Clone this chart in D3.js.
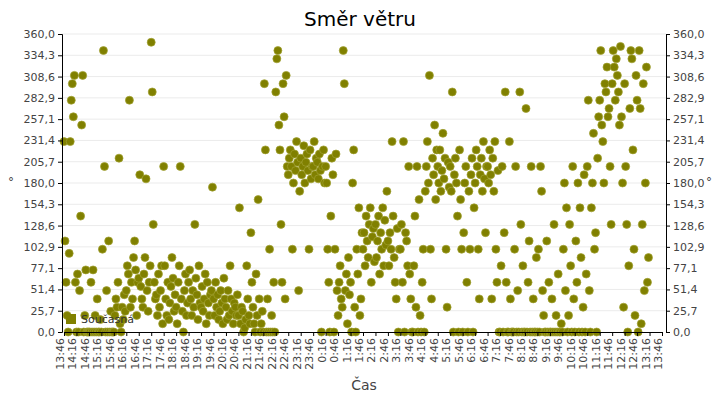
<!DOCTYPE html>
<html><head><meta charset="utf-8">
<script src="https://cdn.jsdelivr.net/npm/d3@7"></script>
<style>body{margin:0;background:#fff}text{font-family:"DejaVu Sans",sans-serif}</style>
</head><body><svg id="c" width="720" height="400"></svg>
<script>
// one array of wind direction readings per 30-minute interval starting 13:46
var blocks = [
  [230, 110, 60, 20, 0, 95, 230, 280, 300, 260, 310, 60],
  [0, 70, 0, 50, 140, 250, 310, 0, 20, 75, 0, 0],
  [0, 0, 60, 0, 75, 0, 20, 0, 40, 0, 0, 15],
  [0, 100, 340, 200, 0, 50, 0, 110, 0, 25, 0, 0],
  [0, 20, 40, 30, 60, 210, 10, 0, 30, 15, 45, 25],
  [50, 80, 70, 280, 30, 60, 40, 90, 110, 75, 20, 60],
  [65, 190, 55, 40, 30, 70, 90, 185, 50, 25, 60, 80],
  [350, 290, 130, 60, 40, 45, 20, 70, 30, 50, 80, 10],
  [200, 80, 40, 20, 60, 15, 35, 55, 90, 65, 25, 45],
  [30, 10, 60, 80, 200, 40, 25, 0, 50, 70, 20, 35],
  [60, 75, 40, 20, 50, 30, 130, 65, 45, 15, 80, 35],
  [30, 55, 25, 40, 70, 10, 60, 35, 20, 45, 50, 175],
  [40, 20, 60, 30, 45, 15, 25, 50, 35, 10, 65, 40],
  [30, 15, 50, 20, 80, 40, 25, 10, 35, 30, 20, 45],
  [20, 150, 10, 30, 25, 0, 5, 15, 80, 40, 20, 10],
  [120, 60, 30, 10, 0, 70, 20, 160, 40, 0, 10, 25],
  [0, 300, 220, 0, 40, 0, 100, 0, 20, 0, 60, 0],
  [290, 330, 340, 250, 220, 130, 60, 300, 260, 40, 310, 200],
  [190, 210, 220, 200, 100, 180, 215, 195, 230, 205, 50, 170],
  [210, 190, 200, 225, 180, 205, 215, 195, 100, 220, 185, 200],
  [200, 230, 190, 210, 205, 185, 215, 195, 0, 200, 220, 180],
  [200, 180, 100, 60, 0, 140, 210, 190, 0, 100, 215, 50],
  [20, 60, 80, 40, 30, 340, 300, 50, 70, 10, 90, 45],
  [60, 0, 180, 220, 30, 0, 100, 70, 150, 20, 40, 120],
  [100, 120, 80, 140, 110, 90, 130, 150, 60, 115, 125, 85],
  [130, 90, 110, 140, 70, 120, 100, 150, 80, 135, 105, 170],
  [110, 80, 120, 100, 230, 140, 90, 60, 40, 125, 0, 100],
  [100, 130, 60, 230, 0, 120, 110, 80, 200, 70, 40, 0],
  [0, 80, 140, 30, 200, 0, 160, 20, 0, 60, 100, 0],
  [170, 200, 230, 180, 310, 100, 40, 210, 190, 250, 160, 220],
  [200, 180, 220, 170, 195, 240, 185, 210, 100, 30, 205, 175],
  [200, 170, 290, 0, 190, 210, 180, 140, 0, 220, 160, 100],
  [0, 120, 180, 200, 60, 0, 170, 100, 190, 210, 0, 150],
  [180, 220, 200, 100, 40, 190, 210, 170, 230, 185, 120, 200],
  [200, 180, 220, 190, 40, 210, 170, 230, 100, 60, 195, 0],
  [0, 80, 200, 0, 120, 290, 60, 0, 0, 230, 40, 0],
  [0, 0, 100, 200, 0, 50, 0, 290, 130, 0, 80, 0],
  [0, 270, 0, 60, 110, 0, 200, 0, 40, 0, 0, 90],
  [0, 100, 0, 200, 170, 50, 20, 0, 0, 110, 0, 60],
  [0, 0, 40, 0, 130, 0, 20, 0, 70, 0, 0, 10],
  [0, 100, 180, 50, 150, 0, 20, 130, 80, 0, 200, 40],
  [0, 110, 60, 180, 0, 150, 90, 0, 30, 190, 0, 70],
  [200, 280, 50, 0, 150, 180, 240, 100, 120, 0, 210, 260],
  [280, 340, 250, 230, 180, 300, 290, 320, 260, 270, 200, 130],
  [300, 340, 320, 280, 330, 310, 290, 250, 345, 260, 180, 30],
  [300, 200, 130, 0, 80, 270, 340, 330, 220, 100, 20, 310],
  [280, 0, 340, 270, 10, 130, 300, 50, 180, 320, 60, 90]
];
var xTicks = d3.range(0, 49).map(function(i){ return i * 30; });
var yTicks = d3.range(0, 15).map(function(i){ return i * 360 / 14; });
var startMin = 13 * 60 + 46;

var svg = d3.select('#c');
var m = {l: 62, r: 666, t: 34, b: 332};
var x = d3.scaleLinear().domain([0, 1440]).range([m.l + 2, m.r - 4]);
var y = d3.scaleLinear().domain([0, 360]).range([m.b, m.t]);
var fmt = function(v){ return d3.format('.1f')(v).replace('.', ','); };
var tfmt = function(v){ var t = (startMin + v) % 1440; return Math.floor(t / 60) + ':' + d3.format('02')(t % 60); };

svg.append('g').selectAll('line').data(yTicks.slice(1)).join('line')
  .attr('x1', m.l).attr('x2', m.r).attr('y1', y).attr('y2', y)
  .attr('stroke', '#ebebeb');

var pts = [];
blocks.forEach(function(b, i){
  b.forEach(function(v, j){ pts.push({t: i * 30 + j * 30 / b.length, v: v}); });
});
svg.append('g').selectAll('circle').data(pts).join('circle')
  .attr('cx', function(d){ return x(d.t); }).attr('cy', function(d){ return y(d.v); })
  .attr('r', 4).attr('fill', '#808000').attr('stroke', '#a0a030').attr('stroke-width', 0.7);

var ya = svg.append('g').attr('transform', 'translate(' + m.l + ',0)')
  .call(d3.axisLeft(y).tickValues(yTicks).tickFormat(fmt).tickSize(4));
var yb = svg.append('g').attr('transform', 'translate(' + m.r + ',0)')
  .call(d3.axisRight(y).tickValues(yTicks).tickFormat(fmt).tickSize(4));
var xa = svg.append('g').attr('transform', 'translate(0,' + m.b + ')')
  .call(d3.axisBottom(x).tickValues(xTicks).tickFormat(tfmt).tickSize(4));
xa.selectAll('text').attr('transform', 'rotate(-90)').attr('text-anchor', 'end')
  .attr('x', -6).attr('y', -4).attr('dy', '0.32em');
[ya, yb, xa].forEach(function(a){
  a.selectAll('text').attr('font-size', 11).attr('fill', '#444');
  a.select('.domain').attr('stroke', '#000');
});

svg.append('text').attr('x', 360).attr('y', 26).attr('text-anchor', 'middle')
  .attr('font-size', 20).text('Směr větru');
svg.append('text').attr('x', 364).attr('y', 390).attr('text-anchor', 'middle')
  .attr('font-size', 14).attr('fill', '#444').text('Čas');
svg.append('text').attr('x', 8).attr('y', 186).attr('font-size', 12).attr('fill', '#444').text('°');
svg.append('text').attr('x', 706).attr('y', 186).attr('font-size', 12).attr('fill', '#444').text('°');

svg.append('rect').attr('x', 66).attr('y', 314).attr('width', 10).attr('height', 10).attr('fill', '#808000');
svg.append('text').attr('x', 81).attr('y', 323).attr('font-size', 11).attr('fill', '#333').text('Současná');
</script></body></html>
